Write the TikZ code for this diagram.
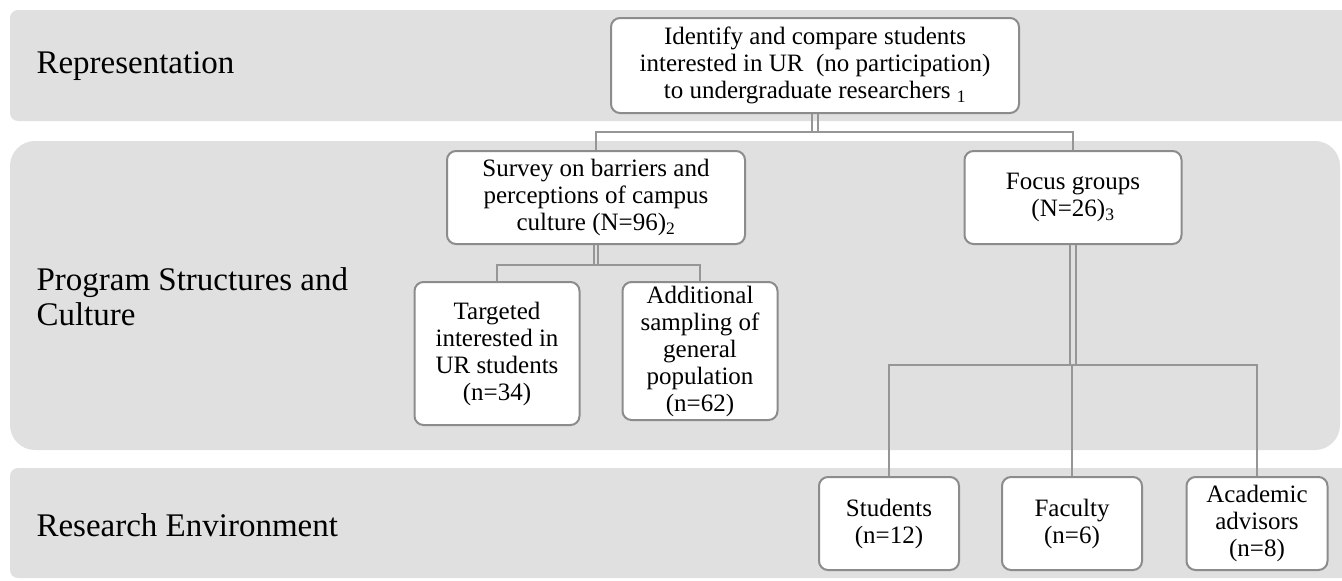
\documentclass[tikz,border=0pt]{standalone}
\usepackage{fontspec}
\setmainfont{Liberation Serif}
\definecolor{bandgray}{RGB}{224,224,224}
\definecolor{boxline}{RGB}{140,140,140}
\definecolor{linkgray}{RGB}{150,150,150}
\begin{document}
\begin{tikzpicture}[x=1pt,y=-1pt,
    band/.style={fill=bandgray, rounded corners=8pt},
    box/.style={draw=boxline, line width=2pt, fill=white, rounded corners=9pt,
        align=center, inner sep=0pt, font=\fontsize{25}{27}\selectfont},
    link/.style={draw=linkgray, line width=2pt},
    level/.style={anchor=west, align=left, font=\fontsize{33}{35}\selectfont}]
    \useasboundingbox (0,0) rectangle (1342,581);

    % Bands
    \fill[band] (10,10) rectangle (1352,121);
    \fill[band, rounded corners=25pt] (10,141) rectangle (1340,450);
    \fill[band] (10,468) rectangle (1352,578);
    \node[level] (rep) at (33,66) {Representation};
    \node[level] (prog) at (33,297) {Program Structures and\\Culture};
    \node[level] (env) at (33,525) {Research Environment};

    % Top
    \node[box, minimum width=408pt, minimum height=95pt] (ident) at (815,65.5)
        {Identify and compare students\\interested in UR\ \ (no participation)\\to undergraduate researchers \textsubscript{1}};

    % Survey and focus groups
    \node[box, minimum width=298pt, minimum height=93pt] (survey) at (596,197.5)
        {Survey on barriers and\\perceptions of campus\\culture (N=96)\textsubscript{2}};
    \node[box, minimum width=217pt, minimum height=93pt] (focus) at (1073,197.5)
        {Focus groups\\(N=26)\textsubscript{3}};

    % Survey samples
    \node[box, minimum width=165pt, minimum height=143pt] (target) at (497,353.5)
        {Targeted\\interested in\\UR students\\(n=34)};
    \node[box, minimum width=155pt, minimum height=138pt] (extra) at (700,351)
        {Additional\\sampling of\\general\\population\\(n=62)};

    % Focus group members
    \node[box, minimum width=140pt, minimum height=93pt] (stud) at (889,523.5)
        {Students\\(n=12)};
    \node[box, minimum width=140pt, minimum height=93pt] (fac) at (1072,523.5)
        {Faculty\\(n=6)};
    \node[box, minimum width=141pt, minimum height=93pt] (adv) at (1257,523.5)
        {Academic\\advisors\\(n=8)};

    % Connectors
    \coordinate (forkA) at (815,132);
    \coordinate (forkB) at (596,265);
    \coordinate (forkC) at (1073,365);
    \draw[link] ([xshift=-3pt]ident.south) -- ([xshift=-3pt]ident.south |- forkA);
    \draw[link] ([xshift=3pt]ident.south) -- ([xshift=3pt]ident.south |- forkA);
    \draw[link] (survey.north) -- (survey.north |- forkA) -- (focus.north |- forkA) -- (focus.north);

    \draw[link] ([xshift=-2pt]survey.south) -- ([xshift=-2pt]survey.south |- forkB);
    \draw[link] ([xshift=2pt]survey.south) -- ([xshift=2pt]survey.south |- forkB);
    \draw[link] (target.north) -- (target.north |- forkB) -- (extra.north |- forkB) -- (extra.north);

    \draw[link] ([xshift=-3pt]focus.south) -- ([xshift=-3pt]focus.south |- forkC);
    \draw[link] ([xshift=3pt]focus.south) -- ([xshift=3pt]focus.south |- forkC);
    \draw[link] (stud.north) -- (stud.north |- forkC) -- (adv.north |- forkC) -- (adv.north);
    \draw[link] (fac.north) -- (fac.north |- forkC);
\end{tikzpicture}
\end{document}
